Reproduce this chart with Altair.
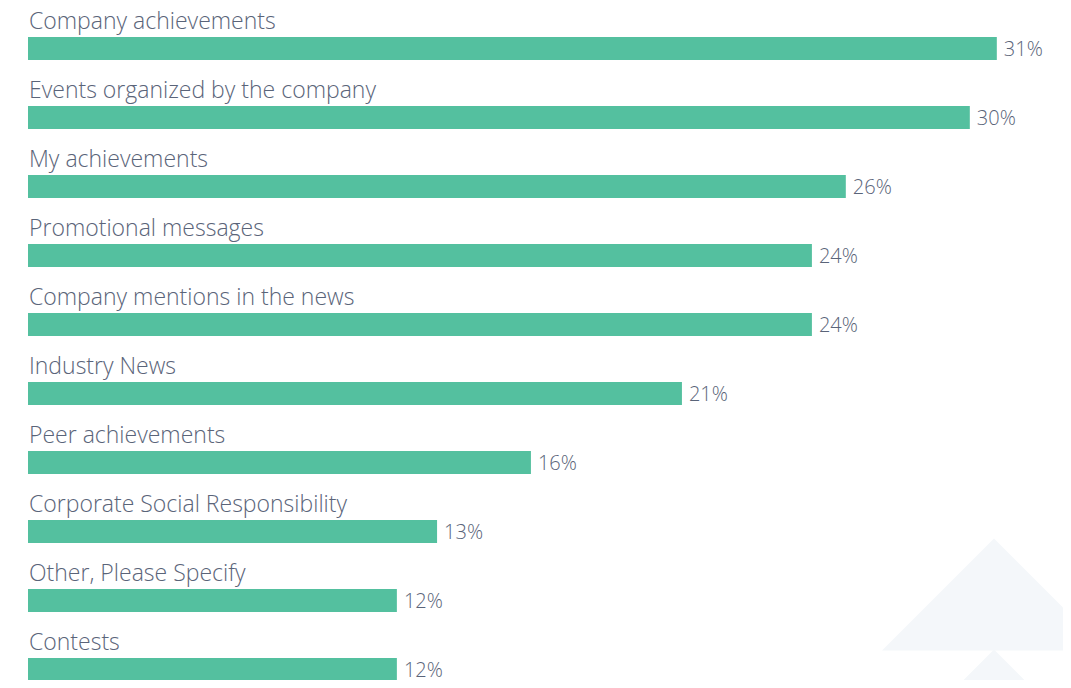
import altair as alt
import pandas as pd

categories = [
    "Company achievements",
    "Events organized by the company",
    "My achievements",
    "Promotional messages",
    "Company mentions in the news",
    "Industry News",
    "Peer achievements",
    "Corporate Social Responsibility",
    "Other, Please Specify",
    "Contests",
]
values = [30.86, 30.0, 26.05, 24.97, 24.97, 20.83, 16.02, 13.03, 11.75, 11.75]
labels = ["31%", "30%", "26%", "24%", "24%", "21%", "16%", "13%", "12%", "12%"]

df = pd.DataFrame({"cat": categories, "val": values, "lab": labels})
deco = pd.DataFrame({"k": ["a", "b"]})

TEXT = "#5a6479"
BAR = "#54c09f"
FONT = "Open Sans"

y_enc = alt.Y("cat:N", sort=categories, axis=None,
              scale=alt.Scale(paddingInner=0, paddingOuter=0, range=[0, 690]))
x_scale = alt.Scale(domain=[0, 33], nice=False, zero=True, range=[0, 1036])

base = alt.Chart(df)

tri_path = "M-1,0.5L0,-0.5L1,0.5Z"
tri1 = alt.Chart(deco).transform_filter("datum.k == 'a'").mark_point(
    shape=tri_path, filled=True, color="#f4f7fa", opacity=1, size=50176,
    strokeWidth=0
).encode(x=alt.value(966), y=alt.value(580.6))
tri2 = alt.Chart(deco).transform_filter("datum.k == 'b'").mark_point(
    shape=tri_path, filled=True, color="#f4f7fa", opacity=1, size=50176,
    strokeWidth=0
).encode(x=alt.value(966), y=alt.value(691.6))

bars = base.mark_bar(height=23, color=BAR).encode(
    x=alt.X("val:Q", scale=x_scale, axis=None),
    y=y_enc,
)

cat_text = base.mark_text(
    align="left", baseline="alphabetic", dy=-20, font=FONT, fontSize=23,
    fontWeight=300, color=TEXT
).encode(x=alt.value(1), y=y_enc, text="cat:N")

val_text = base.mark_text(
    align="left", baseline="alphabetic", dx=7, dy=7.5, font=FONT, fontSize=20,
    fontWeight=300, color=TEXT
).encode(x=alt.X("val:Q", scale=x_scale, axis=None), y=y_enc, text="lab:N")

chart = alt.layer(tri1, tri2, bars, cat_text, val_text).properties(
    width=1035, height=666,
    padding={"left": 20, "top": 6.0, "right": 0, "bottom": 0},
    autosize=alt.AutoSizeParams(type="none"),
    background="white",
).configure_view(stroke=None)

chart.save("out.html", embed_options={"renderer": "svg", "actions": False})
